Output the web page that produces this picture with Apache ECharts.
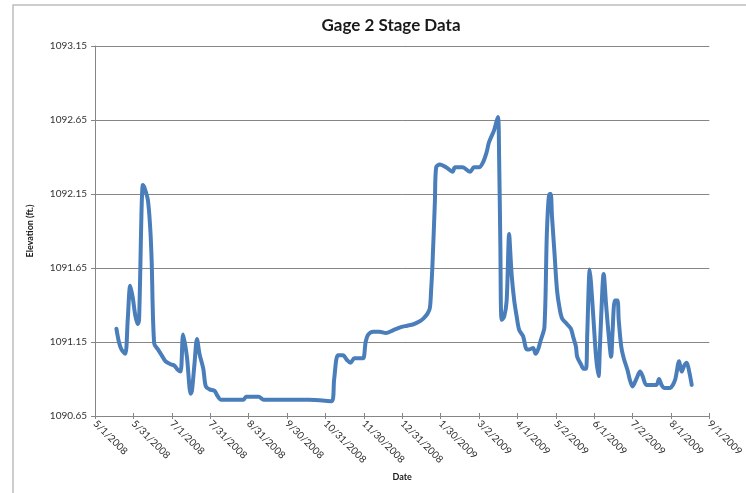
<!DOCTYPE html>
<html>
<head>
<meta charset="utf-8">
<script src="https://cdn.jsdelivr.net/npm/echarts@6/dist/echarts.min.js"></script>
<style>html,body{margin:0;padding:0;background:#fff}#c{width:746px;height:493px}</style>
</head>
<body>
<div id="c"></div>
<script>
// Days since 5/1/2008
const startDate = '5/1/2008';
const dayOffsets = [17,19,21,24,26,28,30,32,34,35,38,39,42,44,45,47,50,53,56,60,63,66,68,70,73,76,77,79,81,83,86,88,91,95,97,100,110,118,120,126,130,134,150,170,188,190,193,197,200,203,206,210,213,215,217,221,226,231,237,243,248,253,258,261,264,266,267,268,270,271,274,279,284,286,292,298,301,305,308,311,313,317,320,321,322,323,325,327,329,330,331,333,335,337,340,343,345,348,350,352,354,357,359,361,362,363,365,367,369,371,375,378,380,382,383,386,388,390,391,393,394,396,398,400,401,403,404,406,408,410,411,413,415,416,418,420,423,425,427,430,433,435,438,442,446,448,450,452,457,459,461,464,465,466,468,470,472,474];
const elevation = [1091.24,1091.15,1091.10,1091.07,1091.30,1091.53,1091.45,1091.33,1091.27,1091.30,1092.21,1092.20,1092.11,1091.90,1091.70,1091.14,1091.10,1091.06,1091.02,1091.00,1090.99,1090.96,1090.95,1091.20,1091.05,1090.80,1090.82,1091.00,1091.17,1091.07,1090.97,1090.85,1090.83,1090.82,1090.79,1090.76,1090.76,1090.76,1090.78,1090.78,1090.78,1090.76,1090.76,1090.76,1090.75,1090.90,1091.06,1091.06,1091.03,1091.01,1091.04,1091.04,1091.04,1091.15,1091.20,1091.22,1091.22,1091.21,1091.23,1091.25,1091.26,1091.27,1091.29,1091.31,1091.34,1091.38,1091.50,1091.66,1092.10,1092.33,1092.35,1092.33,1092.30,1092.33,1092.33,1092.30,1092.33,1092.33,1092.36,1092.43,1092.50,1092.58,1092.67,1092.40,1091.80,1091.30,1091.32,1091.43,1091.88,1091.74,1091.60,1091.43,1091.32,1091.23,1091.19,1091.10,1091.10,1091.11,1091.07,1091.10,1091.16,1091.25,1091.90,1092.15,1092.15,1092.00,1091.75,1091.50,1091.38,1091.31,1091.27,1091.24,1091.18,1091.12,1091.05,1091.00,1090.97,1090.97,1091.20,1091.64,1091.55,1091.30,1091.05,1090.92,1091.10,1091.50,1091.61,1091.40,1091.20,1091.05,1091.20,1091.43,1091.43,1091.30,1091.12,1091.04,1090.96,1090.89,1090.85,1090.90,1090.95,1090.92,1090.86,1090.86,1090.86,1090.90,1090.86,1090.84,1090.84,1090.86,1090.90,1091.02,1090.98,1090.95,1090.99,1091.01,1090.95,1090.86];
const xTickLabels = ['5/1/2008','5/31/2008','7/1/2008','7/31/2008','8/31/2008','9/30/2008','10/31/2008','11/30/2008','12/31/2008','1/30/2009','3/2/2009','4/1/2009','5/2/2009','6/1/2009','7/2/2009','8/1/2009','9/1/2009'];
const yMin = 1090.65, yMax = 1093.15, yStep = 0.5;
const xStep = 30.5, xMax = 488;

const pts = dayOffsets.map((d, i) => [d, elevation[i]]);
const font = 'Lato, "Open Sans", sans-serif';
const chart = echarts.init(document.getElementById('c'));
chart.setOption({
  animation: false,
  backgroundColor: '#fff',
  title: {
    text: 'Gage 2 Stage Data', left: 386, top: 12, textAlign: 'center',
    textStyle: {fontFamily: font, fontSize: 17, fontWeight: 'bold', color: '#1a1a1a'}
  },
  graphic: [{type: 'rect', shape: {x: 13, y: 5, width: 745, height: 500}, style: {fill: 'none', stroke: '#bdbdbd', lineWidth: 1.5}}],
  grid: {left: 95, right: 33, top: 46, bottom: 77, containLabel: false},
  xAxis: [{
    type: 'value', min: 0, max: xMax, interval: xStep,
    name: 'Date', nameLocation: 'middle', nameGap: 57,
    nameTextStyle: {fontFamily: font, fontSize: 9, fontWeight: 'bold', color: '#1a1a1a'},
    axisLine: {lineStyle: {color: '#868686', width: 1}},
    axisTick: {show: true, length: 3, lineStyle: {color: '#868686'}},
    splitLine: {show: false},
    axisLabel: {
      rotate: -45, margin: 6, fontFamily: font, fontSize: 10, color: '#2a2a2a',
      formatter: v => xTickLabels[Math.round(v / xStep)] || ''
    }
  }, {
    type: 'value', min: 0, max: xMax, interval: xStep, position: 'bottom',
    axisLine: {show: false}, axisLabel: {show: false}, splitLine: {show: false},
    axisTick: {show: true, inside: true, length: 3, lineStyle: {color: '#868686'}}
  }],
  yAxis: {
    type: 'value', min: yMin, max: yMax, interval: yStep,
    name: 'Elevation (ft.)', nameLocation: 'middle', nameGap: 60, nameRotate: 90,
    nameTextStyle: {fontFamily: font, fontSize: 9, fontWeight: 'bold', color: '#1a1a1a'},
    axisLine: {show: true, lineStyle: {color: '#868686', width: 1}},
    axisTick: {show: true, length: 4, lineStyle: {color: '#868686'}},
    splitLine: {show: true, lineStyle: {color: '#868686', width: 1}},
    axisLabel: {margin: 8, fontFamily: font, fontSize: 10, color: '#333', formatter: v => v.toFixed(2)}
  },
  series: [{
    type: 'line', data: pts, showSymbol: false, smooth: 0.3,
    lineStyle: {color: '#4a7ebb', width: 4, join: 'round', cap: 'round'}, itemStyle: {color: '#4a7ebb'}
  }]
});
</script>
</body>
</html>
